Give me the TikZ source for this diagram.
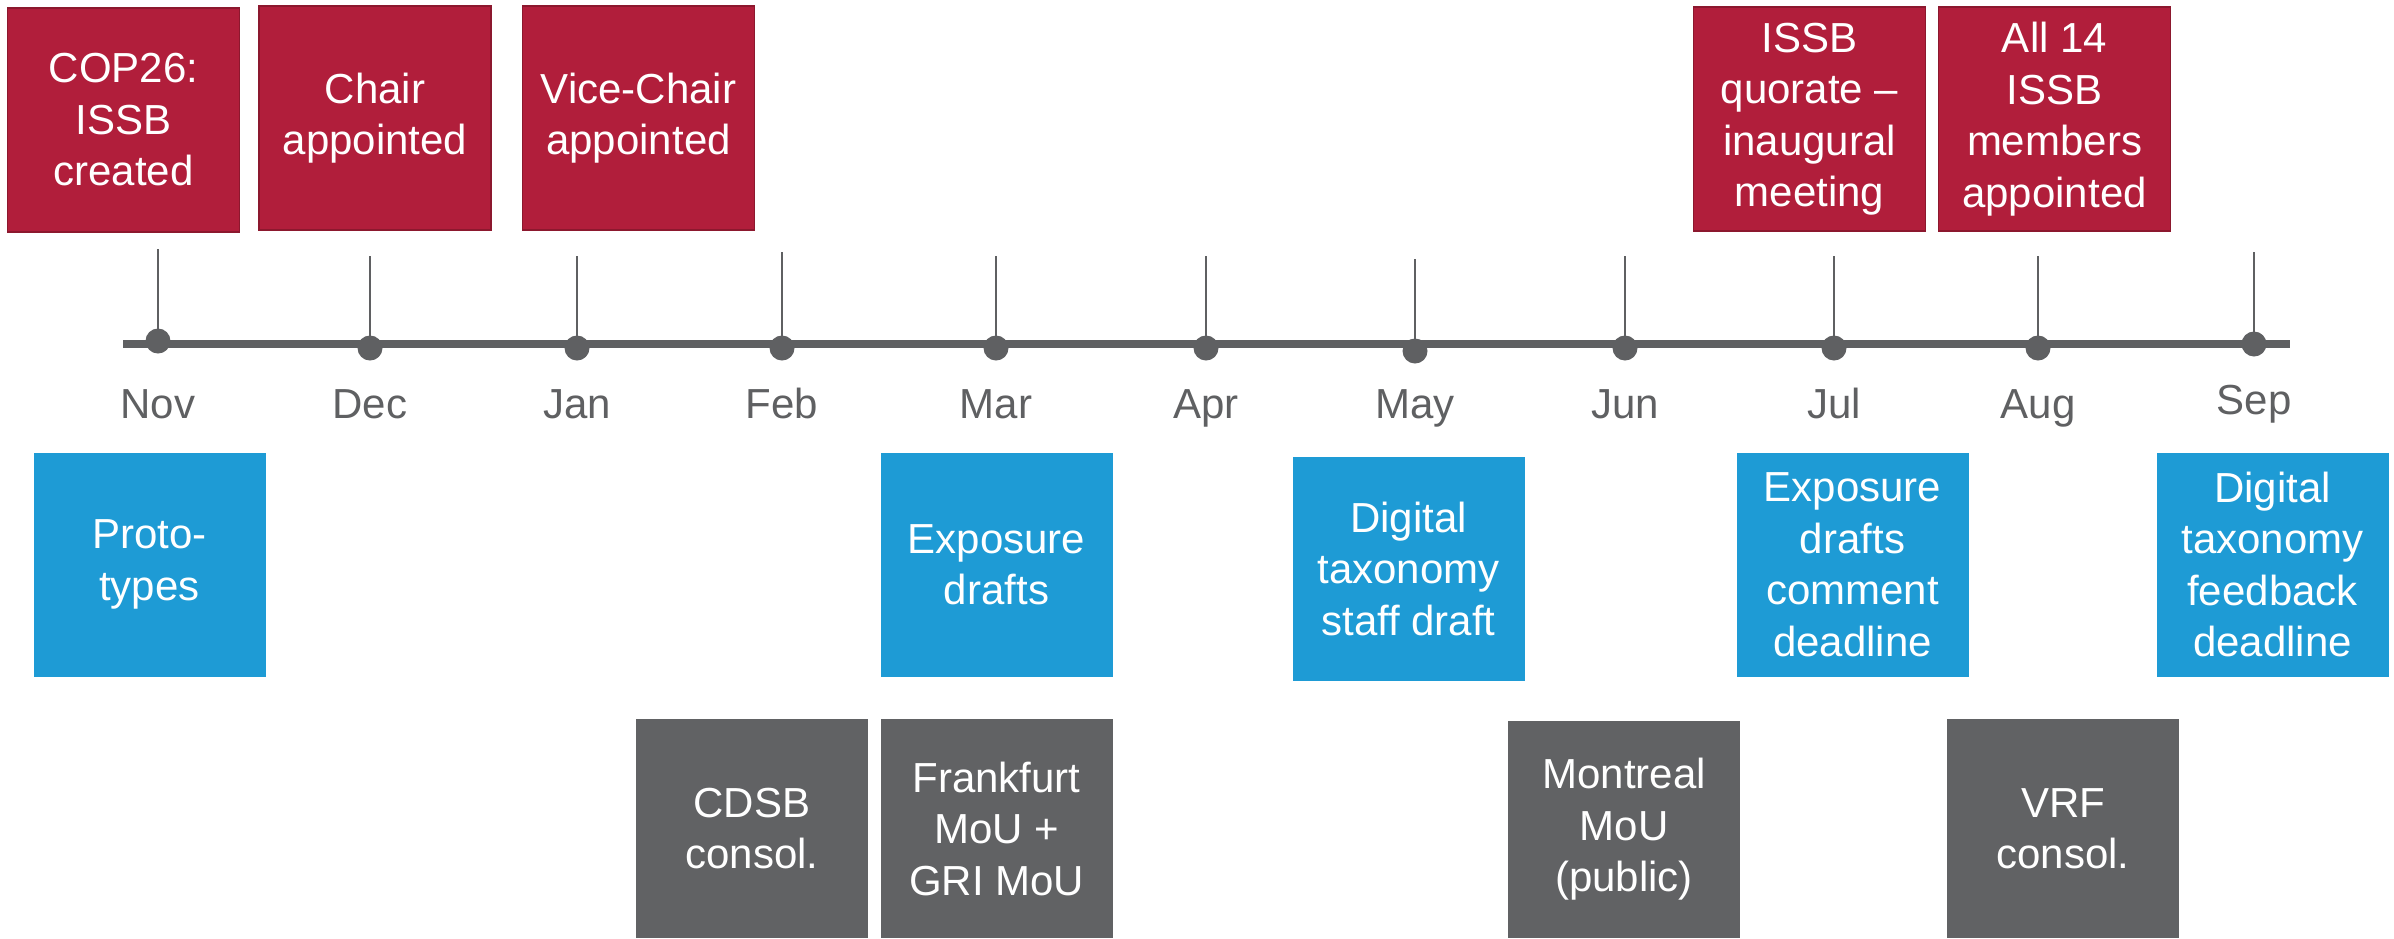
\documentclass[tikz,border=0pt]{standalone}
\usepackage{fontspec}
\setmainfont{Liberation Sans}
\definecolor{ired}{RGB}{177,30,59}
\definecolor{iredb}{RGB}{140,24,46}
\definecolor{iblue}{RGB}{30,155,213}
\definecolor{igray}{RGB}{97,98,100}
\definecolor{lgray}{RGB}{95,96,98}
\begin{document}
\begin{tikzpicture}[x=1pt,y=-1pt,
  evbox/.style={rectangle, inner sep=0pt, minimum width=232pt, minimum height=224pt,
    align=center, text=white, font=\fontsize{42}{51.5}\selectfont},
  redbox/.style={evbox, fill=ired, draw=iredb, line width=1.5pt},
  bluebox/.style={evbox, fill=iblue},
  graybox/.style={evbox, fill=igray, minimum height=219pt},
  month/.style={text=lgray, font=\fontsize{42}{50}\selectfont, anchor=base, inner sep=0pt},
  dotn/.style={circle, fill=lgray, minimum size=25pt, inner sep=0pt},
  tickln/.style={draw=lgray, line width=2.5pt},
  axis/.style={draw=lgray, line width=8pt}]
\useasboundingbox (0,0) rectangle (2394,938);
\fill[white] (0,0) rectangle (2394,938);

% timeline
\coordinate (ls) at (123,344);
\coordinate (le) at (2290,344);
\draw[axis] (ls) -- (le);

% ticks, dots, labels
\foreach \nm/\x/\tt/\dy/\ly in {Nov/158/249/341/418, Dec/370/256/348/418, Jan/577/256/348/418,
  Feb/782/252/348/418, Mar/996/256/348/418, Apr/1206/256/348/418, May/1415/259/351/418,
  Jun/1625/256/348/418, Jul/1834/256/348/418, Aug/2038/256/348/418, Sep/2254/252/344/414}{
  \coordinate (t\nm) at (\x,\tt);
  \node[dotn] (d\nm) at (\x,\dy) {};
  \draw[tickln] (t\nm) -- (d\nm.center);
  \node[month] (m\nm) at (\x,\ly) {\nm};
}

% red boxes (top)
\node[redbox] (cop) at (123.5,120) {COP26:\\ISSB\\created};
\node[redbox] (chair) at (375,118) {Chair\\appointed};
\node[redbox] (vice) at (638.5,118) {Vice-Chair\\appointed};
\node[redbox] (quor) at (1809.5,119) {ISSB\\quorate –\\inaugural\\meeting};
\node[redbox] (all) at (2054.5,119) {All 14\\ISSB\\members\\appointed};

% blue boxes
\node[bluebox] (proto) at (149.5,564.5) {Proto-\\types};
\node[bluebox] (expo) at (996.5,564.5) {Exposure\\drafts};
\node[bluebox] (digs) at (1408.5,568.5) {Digital\\taxonomy\\staff draft};
\node[bluebox] (expoc) at (1852.5,564.5) {Exposure\\drafts\\comment\\deadline};
\node[bluebox] (digf) at (2272.5,564.5) {Digital\\taxonomy\\feedback\\deadline};

% gray boxes
\node[graybox] (cdsb) at (752,828.5) {CDSB\\consol.};
\node[graybox] (frank) at (996.5,828.5) {Frankfurt\\MoU +\\GRI MoU};
\node[graybox, minimum height=217pt] (mont) at (1624,829.5) {Montreal\\MoU\\(public)};
\node[graybox] (vrf) at (2063,828.5) {VRF\\consol.};
\end{tikzpicture}
\end{document}
